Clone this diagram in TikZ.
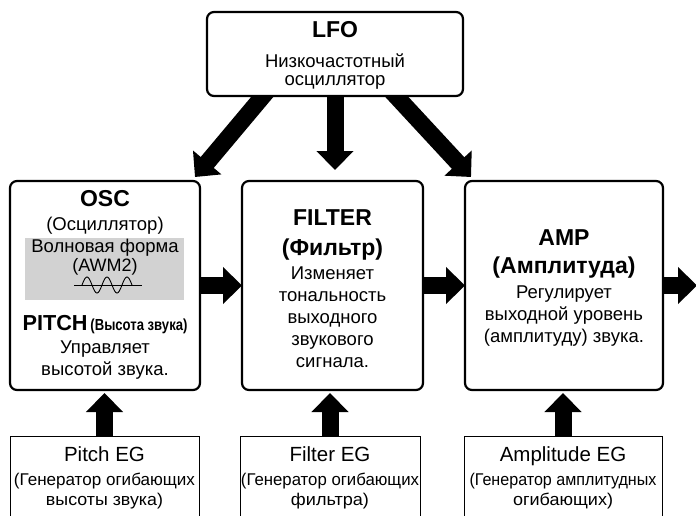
\documentclass[tikz,border=0pt]{standalone}
\usepackage{fontspec}
\usepackage{graphicx}
\setmainfont{Liberation Sans}
\usetikzlibrary{arrows.meta,backgrounds}
\newcommand\fitw[2]{\resizebox{#1}{\height}{#2}}
\begin{document}
\begin{tikzpicture}[x=1pt,y=-1pt,
  mainbox/.style={draw, fill=white, line width=2.2pt, rounded corners=7pt, inner sep=0pt, outer sep=0pt},
  egbox/.style={draw, fill=white, line width=1pt, inner sep=0pt, outer sep=0pt},
  txt/.style={anchor=base, inner sep=0pt, font=\fontsize{18.5}{22}\selectfont},
  ttl/.style={anchor=base, inner sep=0pt, font=\fontsize{23}{28}\selectfont\bfseries},
  egt/.style={anchor=base, inner sep=0pt, font=\fontsize{20.5}{24}\selectfont},
  egn/.style={anchor=base, inner sep=0pt, font=\fontsize{17}{20}\selectfont},
  blockarrow/.style={line width=17pt, -{Triangle[width=36pt,length=19pt]}},
]
\useasboundingbox (0,0) rectangle (696,515);
\clip (0,0) rectangle (696,515);

% boxes
\node[mainbox, minimum width=256pt, minimum height=84pt] (lfo) at (335,54) {};
\node[mainbox, minimum width=190pt, minimum height=209pt] (osc) at (105,285.5) {};
\node[mainbox, minimum width=181pt, minimum height=209pt] (filter) at (332.5,285.5) {};
\node[mainbox, minimum width=198pt, minimum height=209pt] (amp) at (564,285.5) {};
\node[egbox, minimum width=189pt, minimum height=89pt] (pitcheg) at (104.5,480.5) {};
\node[egbox, minimum width=180pt, minimum height=89pt] (filtereg) at (330,480.5) {};
\node[egbox, minimum width=198pt, minimum height=89pt] (ampeg) at (563,480.5) {};

% gray waveform panel
\fill[gray!35] (25,238) rectangle (184,300);
\draw[line width=0.9pt] (74,285) -- (142,285);
\draw[line width=0.9pt] plot[domain=0:50, samples=90, smooth] ({82+\x},{285-8*sin(\x*18)});

% arrows
\coordinate (lsrc) at (271.4,86);
\coordinate (ltip) at (195,177);
\coordinate (rsrc) at (386.7,86);
\coordinate (rtip) at (471,177);
\coordinate (out) at (697,285.5);
\begin{scope}[on background layer]
  \draw[blockarrow] (lsrc) -- (ltip);
  \draw[blockarrow] (rsrc) -- (rtip);
\end{scope}
\draw[blockarrow, shorten >=11pt] (lfo.south) -- (lfo.south |- filter.north);
\draw[blockarrow] (osc.east) -- (filter.west);
\draw[blockarrow] (filter.east) -- (amp.west);
\draw[blockarrow] (amp.east) -- (out);
\draw[blockarrow, shorten >=3pt] (pitcheg.north) -- (pitcheg.north |- osc.south);
\draw[blockarrow, shorten >=3pt] (filtereg.north) -- (filtereg.north |- filter.south);
\draw[blockarrow, shorten >=3pt] (ampeg.north) -- (ampeg.north |- amp.south);

% LFO text
\node[ttl] (t1) at (335,37) {LFO};
\node[txt] (t2) at (335,67) {Низкочастотный};
\node[txt] (t3) at (335,85) {осциллятор};

% OSC text
\node[ttl] (o1) at (105,206) {OSC};
\node[txt] (o2) at (105,230) {(Осциллятор)};
\node[txt] (o3) at (105,252) {Волновая форма};
\node[txt, font=\fontsize{18}{22}\selectfont] (o4) at (105,271.5) {(AWM2)};
\node[anchor=base, inner sep=0pt] (o5) at (105,330) {{\fontsize{21.7}{26}\selectfont\bfseries PITCH} \fitw{97pt}{\fontsize{16}{19}\selectfont\bfseries (Высота звука)}};
\node[txt] (o6) at (105,353) {Управляет};
\node[txt] (o7) at (105,375) {высотой звука.};

% FILTER text
\node[ttl] (f1) at (332.5,225) {FILTER};
\node[ttl] (f2) at (332.5,255) {(Фильтр)};
\node[txt] (f3) at (332.5,279) {Изменяет};
\node[txt] (f4) at (332.5,301) {тональность};
\node[txt] (f5) at (332.5,323) {выходного};
\node[txt] (f6) at (332.5,345) {звукового};
\node[txt] (f7) at (332.5,367) {сигнала.};

% AMP text
\node[ttl] (a1) at (564,245) {AMP};
\node[ttl] (a2) at (564,273) {(Амплитуда)};
\node[txt] (a3) at (564,298) {Регулирует};
\node[txt] (a4) at (564,320) {выходной уровень};
\node[txt] (a5) at (564,342) {(амплитуду) звука.};

% EG text
\node[egt] (p1) at (104.5,461) {Pitch EG};
\node[egn] (p2) at (104.5,485) {\fitw{181pt}{(Генератор огибающих}};
\node[egn] (p3) at (104.5,505) {\fitw{117pt}{высоты звука)}};
\node[egt] (e1) at (330,461) {Filter EG};
\node[egn] (e2) at (330,485) {\fitw{178pt}{(Генератор огибающих}};
\node[egn] (e3) at (330,505) {\fitw{78pt}{фильтра)}};
\node[egt] (m1) at (563,461) {Amplitude EG};
\node[egn] (m2) at (563,485) {\fitw{187pt}{(Генератор амплитудных}};
\node[egn] (m3) at (563,505) {\fitw{100pt}{огибающих)}};
\end{tikzpicture}
\end{document}
